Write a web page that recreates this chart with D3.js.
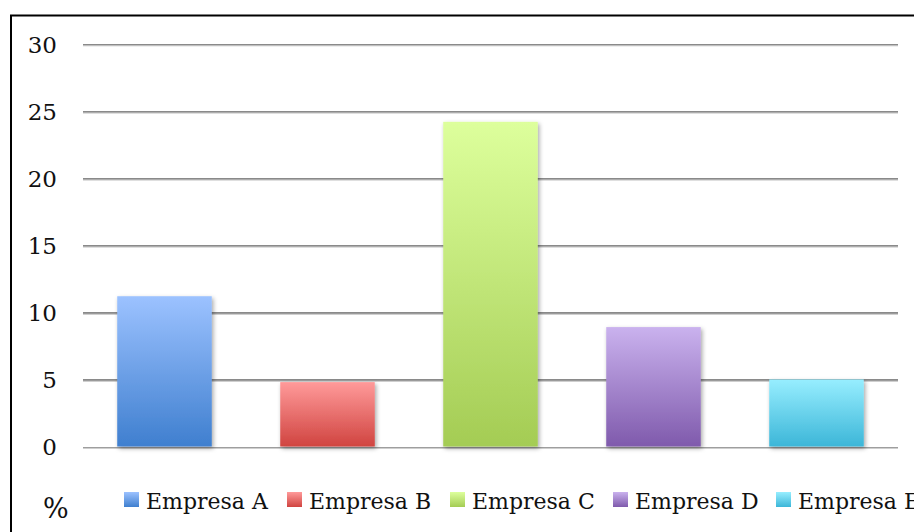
<!DOCTYPE html>
<html>
<head>
<meta charset="utf-8">
<script src="https://cdn.jsdelivr.net/npm/d3@7"></script>
<style>
  html, body { margin: 0; padding: 0; background: #fff; }
  svg { display: block; }
  text { font-family: "DejaVu Serif", serif; fill: #111; }
</style>
</head>
<body>
<svg id="chart" width="914" height="532"></svg>
<script>
// Share by company (%)
const categories = ["Empresa A", "Empresa B", "Empresa C", "Empresa D", "Empresa E"];
const values = [11.2, 4.8, 24.2, 8.9, 5.0];
const yTicks = [0, 5, 10, 15, 20, 25, 30];
const unitLabel = "%";
// gradient stops per company: [top, bottom]
const colors = [
  ["#9cc2ff", "#3f7fcf"],
  ["#ff9a9a", "#d04440"],
  ["#ddff9c", "#a4cc54"],
  ["#cab2ee", "#7f5aac"],
  ["#97eeff", "#3cb6d8"]
];

const svg = d3.select("#chart");
const W = 914, H = 532;
const plot = { left: 83, right: 898, top: 44, bottom: 446.5 };

const x = d3.scaleBand().domain(categories).range([plot.left, plot.right]).paddingInner(0.42).paddingOuter(0.21);
const y = d3.scaleLinear().domain([0, 30]).range([plot.bottom, plot.top]);

const defs = svg.append("defs");
colors.forEach((c, i) => {
  const g = defs.append("linearGradient").attr("id", "grad" + i)
    .attr("x1", 0).attr("y1", 0).attr("x2", 0).attr("y2", 1);
  g.append("stop").attr("offset", "0%").attr("stop-color", c[0]);
  g.append("stop").attr("offset", "100%").attr("stop-color", c[1]);
});
const sh = defs.append("filter").attr("id", "shadow")
  .attr("x", "-20%").attr("y", "-20%").attr("width", "140%").attr("height", "140%");
sh.append("feDropShadow").attr("dx", 1.5).attr("dy", 2).attr("stdDeviation", 2)
  .attr("flood-color", "#000").attr("flood-opacity", 0.35);
// gridline shadow in user space so zero-height lines still render
const lsh = defs.append("filter").attr("id", "lshadow").attr("filterUnits", "userSpaceOnUse")
  .attr("x", 0).attr("y", 0).attr("width", W).attr("height", H);
lsh.append("feDropShadow").attr("dx", 0).attr("dy", 1).attr("stdDeviation", 0.6)
  .attr("flood-color", "#000").attr("flood-opacity", 0.25);

// outer frame
svg.append("rect").attr("x", 11).attr("y", 15.5).attr("width", W).attr("height", H)
  .attr("fill", "none").attr("stroke", "#000").attr("stroke-width", 2);

// gridlines and tick labels
const yAxis = d3.axisLeft(y).tickValues(yTicks).tickSize(-(plot.right - plot.left)).tickPadding(26);
const ga = svg.append("g").attr("transform", `translate(${plot.left},0)`).call(yAxis);
ga.select(".domain").remove();
ga.selectAll(".tick line").attr("stroke", "#8a8a8a").attr("stroke-width", 1.6).attr("filter", "url(#lshadow)");
ga.selectAll(".tick text").attr("font-family", "DejaVu Serif, serif").attr("font-size", 23)
  .attr("fill", "#111").attr("x", 57 - plot.left).attr("dy", "0.36em");

// bars
svg.append("g").selectAll("rect").data(values).join("rect")
  .attr("x", (d, i) => x(categories[i]))
  .attr("y", d => y(d))
  .attr("width", x.bandwidth())
  .attr("height", d => y(0) - y(d))
  .attr("fill", (d, i) => `url(#grad${i})`)
  .attr("filter", "url(#shadow)");

// unit label
svg.append("text").attr("x", 43).attr("y", 518).attr("font-size", 27).text(unitLabel);

// legend
const legend = svg.append("g");
const legX = d3.scaleLinear().domain([0, 1]).range([124, 124 + 163]);
const items = legend.selectAll("g").data(categories).join("g")
  .attr("transform", (d, i) => `translate(${legX(i)},492)`);
items.append("rect").attr("width", 15).attr("height", 15)
  .attr("fill", (d, i) => `url(#grad${i})`);
items.append("text").attr("x", 22).attr("y", 17).attr("font-size", 22).text(d => d);
</script>
</body>
</html>
